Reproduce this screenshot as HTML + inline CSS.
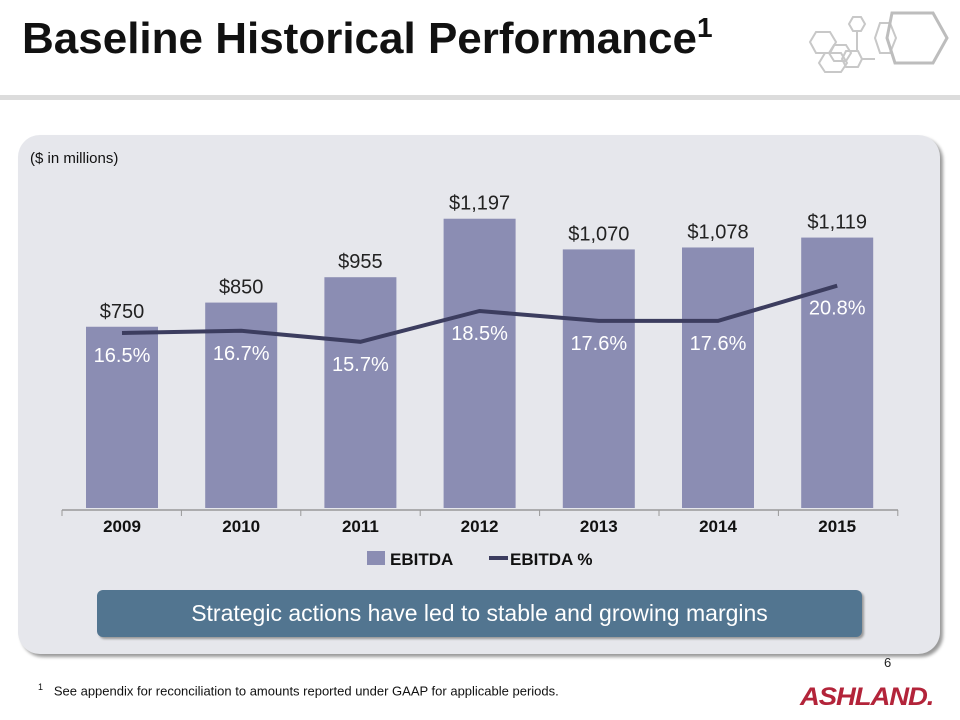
<!DOCTYPE html>
<html><head><meta charset="utf-8"><style>
body{margin:0;width:960px;height:720px;background:#fff;font-family:"Liberation Sans",Arial,sans-serif;position:relative;overflow:hidden}
.abs{position:absolute}
</style></head><body>
<div class="abs" style="left:22px;top:12px;font-size:44px;font-weight:bold;color:#111;white-space:nowrap">Baseline Historical Performance<sup style="font-size:28px;vertical-align:16px">1</sup></div>
<svg class="abs" style="left:0;top:0" width="960" height="95">
<g fill="none" stroke="#c8c8c8" stroke-width="2">
<polygon points="816,32 830,32 836,42 830,53 816,53 810,42"/>
<polygon points="834,45 846,45 851,53 846,61 834,61 829,53"/>
<polygon points="825,53 841,53 847,63 841,72 825,72 819,63"/>
<polygon points="846,51 858,51 862,59 858,67 846,67 842,59"/>
<polygon points="853,17 861,17 865,24 861,31 853,31 849,24"/>
<polygon points="880,23 890,23 896,38 890,53 880,53 875,38"/>
<line x1="857" y1="31" x2="857" y2="51"/><line x1="862" y1="59" x2="875" y2="59"/>
<polygon stroke="#bdbdbd" stroke-width="3" points="892,13 933,13 947,38 933,63 895,63 887,38"/>
</g></svg>
<div class="abs" style="left:0;top:95px;width:960px;height:5px;background:#dcdcdc"></div>
<div class="abs" style="left:18px;top:135px;width:922px;height:519px;background:#e6e7ec;border-radius:22px;box-shadow:3px 3px 3px #9a9a9a"></div>
<div class="abs" style="left:30px;top:150px;font-size:15px;color:#111">($ in millions)</div>
<svg class="abs" id="chart" style="left:0;top:0" width="960" height="720"></svg>
<div class="abs" style="left:97px;top:590px;width:765px;height:47px;background:#527590;border-radius:6px;color:#fff;font-size:23px;text-align:center;line-height:47px;box-shadow:2px 2px 2px #999">Strategic actions have led to stable and growing margins</div>
<div class="abs" style="left:884px;top:655px;font-size:13px;color:#222">6</div>
<div class="abs" style="left:38px;top:682px;font-size:13px;color:#111"><sup style="font-size:9px">1</sup>&nbsp;&nbsp; See appendix for reconciliation to amounts reported under GAAP for applicable periods.</div>
<div class="abs" style="left:800px;top:683px;font-size:25px;font-weight:900;font-style:italic;color:#b3243a;letter-spacing:-1px;transform:scaleX(1.1);transform-origin:left">ASHLAND.</div>
<script>
const years=["2009","2010","2011","2012","2013","2014","2015"];
const ebitda=[750,850,955,1197,1070,1078,1119];
const ebitdaLabels=["$750","$850","$955","$1,197","$1,070","$1,078","$1,119"];
const margin=[16.5,16.7,15.7,18.5,17.6,17.6,20.8];
const marginLabels=["16.5%","16.7%","15.7%","18.5%","17.6%","17.6%","20.8%"];
const svg=document.getElementById('chart');const NS='http://www.w3.org/2000/svg';
function xC(i){return 122+i*119.2;}
function yB(v){return 508-v*(290/1200);}
function yP(p){return 514.5-p*11;}
function mk(t,a,txt){const e=document.createElementNS(NS,t);for(const k in a)e.setAttribute(k,a[k]);if(txt!==undefined)e.textContent=txt;svg.appendChild(e);return e;}
years.forEach((y,i)=>{
 const b=mk('rect',{x:xC(i)-36,y:yB(ebitda[i]),width:72,height:508-yB(ebitda[i]),fill:'#8b8db3'});
 
 
 const t=mk('text',{x:xC(i),y:yB(ebitda[i])-9,'text-anchor':'middle','font-size':'20',fill:'#222','font-family':'Liberation Sans'},ebitdaLabels[i]);
 
 
 const l=mk('text',{x:xC(i),y:yP(margin[i])+29,'text-anchor':'middle','font-size':'20',fill:'#fff','font-family':'Liberation Sans'},marginLabels[i]);
 
 
 const yl=mk('text',{x:xC(i),y:532,'text-anchor':'middle','font-size':'17','font-weight':'bold',fill:'#111','font-family':'Liberation Sans'},y);
 
 
});
const ax=mk('line',{x1:62,y1:510,x2:898,y2:510,stroke:'#999','stroke-width':1.5});


for(let i=0;i<=7;i++){mk('line',{x1:62+i*119.4,y1:510,x2:62+i*119.4,y2:516,stroke:'#999'});}
const pl=mk('polyline',{points:margin.map((p,i)=>xC(i)+','+yP(p)).join(' '),fill:'none',stroke:'#3c3d5f','stroke-width':4});


const lg1=mk('rect',{x:367,y:551,width:18,height:14,fill:'#8b8db3'});


mk('text',{x:390,y:565,'font-size':'17','font-weight':'bold',fill:'#111','font-family':'Liberation Sans'},'EBITDA');
const lg2=mk('line',{x1:489,y1:558,x2:508,y2:558,stroke:'#3c3d5f','stroke-width':4});


mk('text',{x:510,y:565,'font-size':'17','font-weight':'bold',fill:'#111','font-family':'Liberation Sans'},'EBITDA %');
</script>
</body></html>
